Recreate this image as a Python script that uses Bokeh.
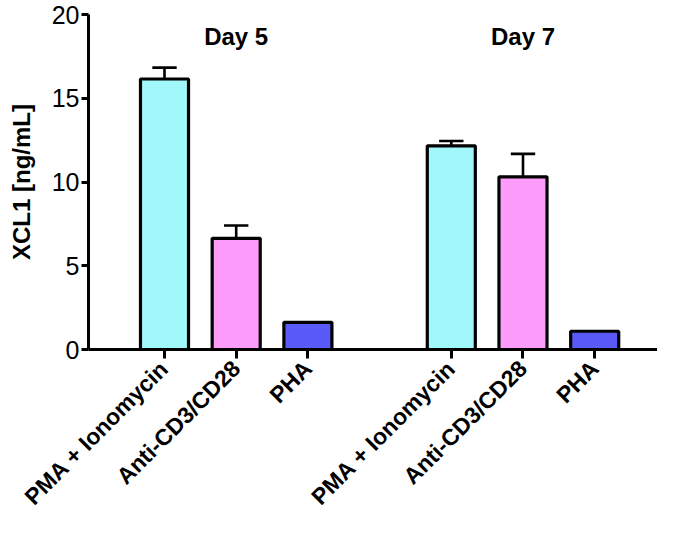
import math
from bokeh.plotting import figure
from bokeh.models import Range1d, FixedTicker, ColumnDataSource
from bokeh.core.properties import value
from bokeh.embed import file_html
from bokeh.resources import INLINE

# ---- data ----
days = ["Day 5", "Day 7"]
stimuli = ["PMA + Ionomycin", "Anti-CD3/CD28", "PHA"]
day5_mean = [16.15, 6.64, 1.62]
day5_sem = [0.68, 0.76, 0.0]
day7_mean = [12.16, 10.31, 1.09]
day7_sem = [0.29, 1.37, 0.0]
bar_colors = ["#a0f8fb", "#fd9cfb", "#5a5af9"]
y_ticks = [0, 5, 10, 15, 20]
y_label = "XCL1 [ng/mL]"
day_label_y = 18.7

means = [day5_mean, day7_mean]
sems = [day5_sem, day7_sem]

# positions derived from the category order (one blank slot between days)
slot = len(stimuli) + 1
xs, tops, errs, cols, labs = [], [], [], [], []
for g, d in enumerate(days):
    for i, s in enumerate(stimuli):
        x = g * slot + i
        xs.append(x)
        tops.append(means[g][i])
        errs.append(means[g][i] + sems[g][i])
        cols.append(bar_colors[i])
        labs.append(s)

bar_w = 0.67
cap_half = 0.17

src = ColumnDataSource(dict(x=xs, top=tops, err=errs, color=cols,
                            c0=[x - cap_half for x in xs], c1=[x + cap_half for x in xs]))

p = figure(width=657, height=521, output_backend="svg", toolbar_location=None,
           x_range=Range1d(-1.06, 6.876), y_range=Range1d(0, 20),
           min_border_left=88, min_border_right=0, min_border_top=14, min_border_bottom=169)
p.outline_line_color = None
p.xgrid.visible = False
p.ygrid.visible = False
p.background_fill_color = "white"

# error bars (upper only)
p.segment(x0="x", y0="top", x1="x", y1="err", source=src, line_color="black", line_width=2.6)
p.segment(x0="c0", y0="err", x1="c1", y1="err", source=src, line_color="black", line_width=2.6)
# bars
p.vbar(x="x", top="top", bottom=0, width=bar_w, source=src, fill_color="color",
       line_color="black", line_width=3.2)

# day labels
day_x = [g * slot + (len(stimuli) - 1) / 2 for g in range(len(days))]
p.text(x=day_x, y=[day_label_y] * len(days), text=days, text_align="center",
       text_baseline="middle", text_font=value("Liberation Sans"),
       text_font_style="bold", text_font_size="24px", text_color="black")

# y axis
ya = p.yaxis[0]
ya.ticker = FixedTicker(ticks=y_ticks)
ya.minor_tick_line_color = None
ya.major_tick_in = 0
ya.major_tick_out = 7
ya.major_tick_line_width = 3
ya.axis_line_width = 3
ya.major_label_standoff = 2
ya.major_label_text_font = "Liberation Sans"
ya.major_label_text_font_size = "25px"
ya.major_label_text_color = "black"
ya.axis_label = y_label
ya.axis_label_text_font = "Liberation Sans"
ya.axis_label_text_font_style = "bold"
ya.axis_label_text_font_size = "24px"
ya.axis_label_standoff = 14
ya.axis_label_text_color = "black"

# x axis
xa = p.xaxis[0]
xa.ticker = FixedTicker(ticks=xs)
xa.major_label_overrides = {x: l for x, l in zip(xs, labs)}
xa.minor_tick_line_color = None
xa.major_tick_in = 0
xa.major_tick_out = 9
xa.major_tick_line_width = 3
xa.axis_line_width = 3
xa.major_label_orientation = math.pi / 4
xa.major_label_standoff = 6
xa.major_label_text_font = "Liberation Sans"
xa.major_label_text_font_style = "bold"
xa.major_label_text_font_size = "23px"
xa.major_label_text_color = "black"

open("out.html", "w").write(file_html(p, INLINE))
